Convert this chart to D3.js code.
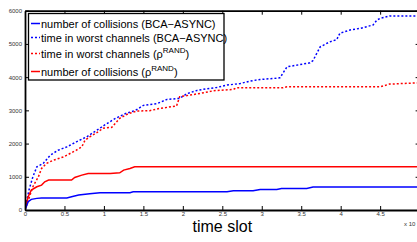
<!DOCTYPE html>
<html><head><meta charset="utf-8">
<script src="https://cdn.jsdelivr.net/npm/d3@7"></script>
<style>html,body{margin:0;padding:0;background:#fff;overflow:hidden}</style>
</head><body>
<svg id="c" width="417" height="242"></svg>
<script>
// time in units of 10^4 slots
const xTicks = [0,0.5,1,1.5,2,2.5,3,3.5,4,4.5];
const xTickLabels = ["0","0.5","1","1.5","2","2.5","3","3.5","4","4.5"];
const yTicks = [0,1000,2000,3000,4000,5000,6000];
const seriesNames = ["number of collisions (BCA\u2212ASYNC)","time in worst channels (BCA\u2212ASYNC)","time in worst channels (\u03c1","number of collisions (\u03c1"];

const worstBCA_t = [0,0.05,0.1,0.15,0.23,0.32,0.42,0.53,0.65,0.78,0.91,1.01,1.14,1.27,1.4,1.5,1.67,1.8,1.96,2.05,2.18,2.3,2.43,2.56,2.73,2.85,2.98,3.15,3.23,3.32,3.44,3.61,3.65,3.74,3.86,3.95,3.99,4.12,4.25,4.41,4.46,4.5,4.62,5.0];
const worstBCA_v = [0,600,1000,1300,1400,1650,1800,1900,2050,2200,2400,2560,2750,2900,3000,3150,3200,3330,3360,3500,3600,3650,3690,3760,3810,3880,3930,3960,3980,4310,4360,4430,4500,4910,5060,5130,5320,5420,5470,5570,5720,5770,5840,5840];

const worstRAND_t = [0,0.1,0.17,0.21,0.27,0.36,0.49,0.57,0.65,0.72,0.76,0.82,0.91,0.99,1.1,1.14,1.2,1.31,1.42,1.58,1.71,1.92,1.96,2.09,2.22,2.39,2.64,2.68,3.27,3.32,4.5,4.62,5.0];
const worstRAND_v = [0,700,1000,1250,1400,1500,1600,1700,1800,1900,2100,2200,2330,2460,2490,2600,2760,2900,2980,2990,3060,3130,3410,3460,3510,3590,3630,3680,3680,3710,3710,3790,3830];

const collRAND_t = [0,0.04,0.08,0.15,0.21,0.25,0.3,0.59,0.63,0.72,0.8,1.08,1.2,1.25,1.33,1.39,5.0];
const collRAND_v = [0,400,600,700,750,850,900,900,980,1050,1100,1100,1120,1200,1250,1300,1300];

const collBCA_t = [0,0.04,0.08,0.15,0.21,0.53,0.59,0.68,0.82,0.95,1.33,1.37,2.56,2.64,2.89,2.98,3.19,3.25,3.57,3.65,5.0];
const collBCA_v = [0,250,320,350,360,360,400,450,490,520,520,550,550,580,580,620,620,650,650,690,690];

const svg = d3.select("#c");
const L = 25, R = 419.6, T = 10.7, B = 210;
const x = d3.scaleLinear().domain([0,5]).range([L,R]);
const y = d3.scaleLinear().domain([0,6000]).range([B,T]);

const line = d3.line().x(d=>x(d[0])).y(d=>y(d[1]));
const zip = (a,b)=>a.map((v,i)=>[v,b[i]]);

const series = [
  {d: zip(collBCA_t, collBCA_v), color:"#0000ff", dash:null},
  {d: zip(worstBCA_t, worstBCA_v), color:"#0000ff", dash:"2,2"},
  {d: zip(worstRAND_t, worstRAND_v), color:"#ff0000", dash:"2,2"},
  {d: zip(collRAND_t, collRAND_v), color:"#ff0000", dash:null}
];

const g = svg.append("g");
g.append("clipPath").attr("id","cp").append("rect").attr("x",L).attr("y",T).attr("width",R-L).attr("height",B-T);
const plot = g.append("g").attr("clip-path","url(#cp)");
[series[1],series[2],series[3],series[0]].forEach(s=>{
  plot.append("path").attr("d",line(s.d)).attr("fill","none")
    .attr("stroke",s.color).attr("stroke-width",1.5)
    .attr("stroke-dasharray",s.dash);
});

// axes (inward ticks)
const fontTick = "6px Arial, 'Liberation Sans', sans-serif";
const axB = d3.axisBottom(x).tickValues(xTicks).tickFormat((d,i)=>xTickLabels[i]).tickSizeInner(-4).tickSizeOuter(0).tickPadding(2);
const axT = d3.axisTop(x).tickValues(xTicks).tickFormat("").tickSizeInner(-4).tickSizeOuter(0);
const axL = d3.axisLeft(y).tickValues(yTicks).tickFormat(d3.format("d")).tickSizeInner(-4).tickSizeOuter(0).tickPadding(3);
const axR = d3.axisRight(y).tickValues(yTicks).tickFormat("").tickSizeInner(-4).tickSizeOuter(0);
function style(sel){
  sel.select(".domain").attr("stroke","#000").attr("stroke-width",1.8);
  sel.selectAll(".tick line").attr("stroke","#000").attr("stroke-width",1);
  sel.selectAll(".tick text").attr("fill","#333").style("font",fontTick);
}
g.append("g").attr("transform",`translate(0,${B})`).call(axB).call(style);
g.append("g").attr("transform",`translate(0,${T})`).call(axT).call(style);
g.append("g").attr("transform",`translate(${L},0)`).call(axL).call(style);
g.append("g").attr("transform",`translate(${R},0)`).call(axR).call(style);

g.append("text").attr("x",404).attr("y",226).style("font",fontTick).attr("fill","#333").text("x 10");
g.append("text").attr("x",(L+R)/2).attr("y",232).attr("text-anchor","middle")
  .style("font","16px Arial, 'Liberation Sans', sans-serif").attr("fill","#000").text("time slot");

// legend
const lg = g.append("g");
lg.append("rect").attr("x",28.5).attr("y",13.5).attr("width",195.5).attr("height",66.5)
  .attr("fill","#fff").attr("stroke","#000").attr("stroke-width",1.3);
const rows = [23.5, 37.5, 53.5, 71.5];
series.forEach((s,i)=>{
  lg.append("line").attr("x1",31).attr("x2",40).attr("y1",rows[i]).attr("y2",rows[i])
    .attr("stroke",s.color).attr("stroke-width",1.5).attr("stroke-dasharray",s.dash);
  const t = lg.append("text").attr("x",41).attr("y",rows[i]+4)
    .style("font","11px Arial, 'Liberation Sans', sans-serif").attr("fill","#000");
  if(i<2){ t.text(seriesNames[i]); }
  else {
    t.append("tspan").text(seriesNames[i]);
    t.append("tspan").attr("dy",-5).style("font-size","8px").text("RAND");
    t.append("tspan").attr("dy",5).text(")");
  }
});
</script>
</body></html>
